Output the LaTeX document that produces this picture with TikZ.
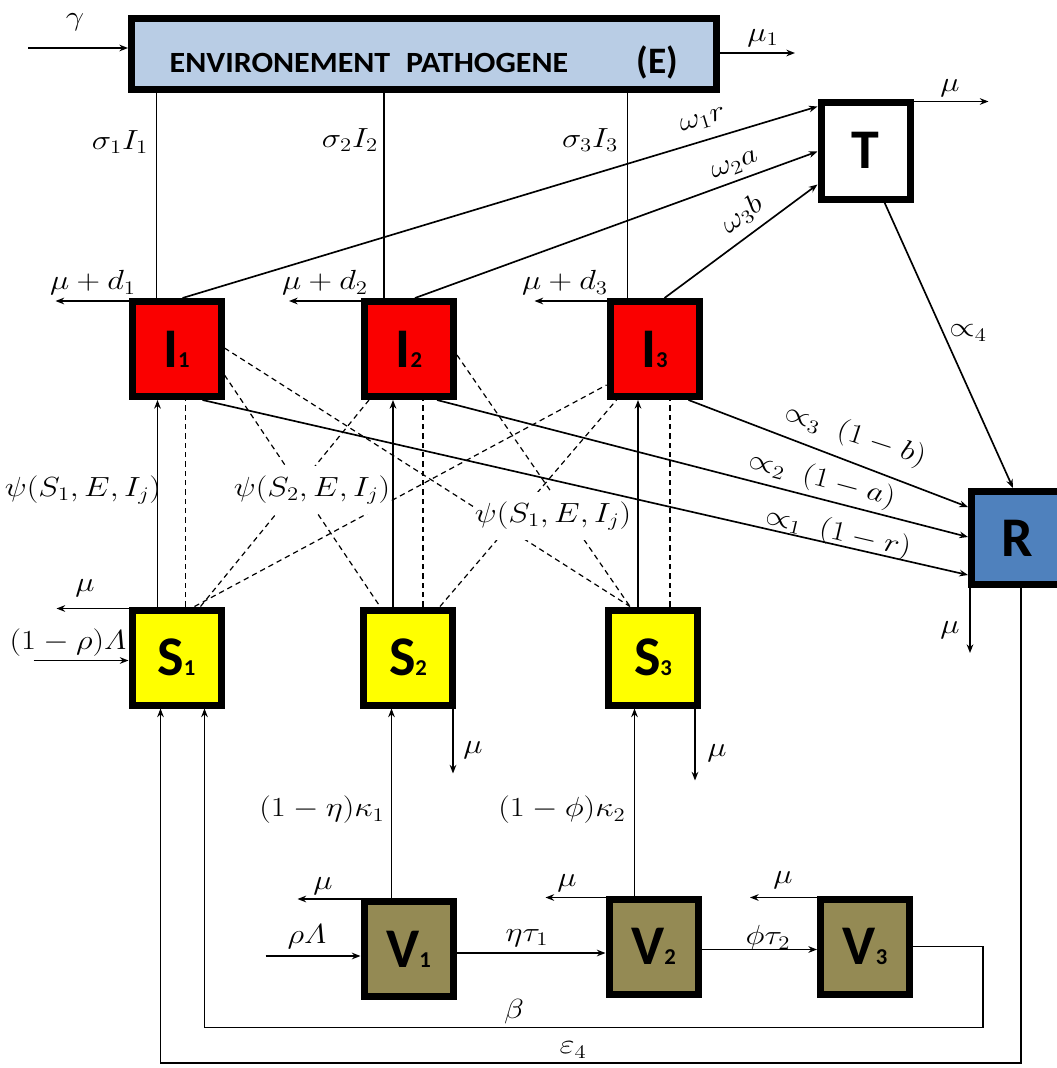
\documentclass[tikz,border=0pt]{standalone}
\usepackage{fontspec}
\usepackage{amsmath}
\usepackage{graphicx}
\newfontfamily\carlito{Carlito}
\usetikzlibrary{arrows.meta,calc}
\definecolor{ebg}{RGB}{185,205,229}
\definecolor{ired}{RGB}{250,0,0}
\definecolor{syel}{RGB}{255,255,0}
\definecolor{rblue}{RGB}{79,129,189}
\definecolor{volive}{RGB}{148,138,84}
\newcommand\bl[2]{{\carlito\bfseries\fontsize{42}{42}\selectfont #1\fontsize{17}{17}\selectfont #2}}
\newcommand\wm[1]{\scalebox{1.18}[1]{$#1$}}
\begin{document}
\begin{tikzpicture}[x=0.75pt,y=-0.75pt,
 comp/.style={draw=black,line width=5.25pt,minimum width=66.75pt,minimum height=71.25pt,inner sep=0pt},
 arr/.style={-{Stealth[length=6.5pt,width=5pt]},line width=1.25pt},
 plainl/.style={line width=0.8pt},
 dsh/.style={dash pattern=on 4pt off 3pt, line width=0.9pt},
 lab/.style={font=\fontsize{19.5}{22}\selectfont, inner sep=1pt},
 wlab/.style={lab, fill=white, inner xsep=1pt, inner ysep=7pt}]
\useasboundingbox (0,0) rectangle (1057,1068);
\fill[white] (0,0) rectangle (1057,1068);

% compartments
\node[comp,fill=ebg,minimum width=438.75pt,minimum height=53.25pt] (E) at (424,54) {};
\node[anchor=base west,font=\carlito\bfseries\fontsize{22}{22}\selectfont] (Etxt) at (165,72) {\scalebox{1.09}[1]{ENVIRONEMENT\hspace{0.5em}PATHOGENE}};
\node[anchor=base west,font=\carlito\bfseries\fontsize{28}{28}\selectfont] (Elab) at (632,73) {(E)};
\node[comp,fill=white,minimum height=72.75pt] (T) at (865.5,150.5) {\bl{T}{}};
\node[comp,fill=ired] (I1) at (176.5,349) {\bl{I}{1}};
\node[comp,fill=ired] (I2) at (409,349) {\bl{I}{2}};
\node[comp,fill=ired] (I3) at (654.5,349) {\bl{I}{3}};
\node[comp,fill=syel] (S1) at (176.5,657.5) {\bl{S}{1}};
\node[comp,fill=syel] (S2) at (408,657.5) {\bl{S}{2}};
\node[comp,fill=syel] (S3) at (653,657.5) {\bl{S}{3}};
\node[comp,fill=rblue,minimum width=68.25pt,minimum height=69.75pt] (R) at (1017,538) {\bl{R}{}};
\node[comp,fill=volive] (V1) at (408.5,949) {\bl{V}{1}};
\node[comp,fill=volive] (V2) at (653.5,946.5) {\bl{V}{2}};
\node[comp,fill=volive] (V3) at (865,946.5) {\bl{V}{3}};

% dashed contact lines (drawn first, labels mask them)
\draw[dsh] ($(S1.north west)+(57,0)$) coordinate (d1) -- (d1 |- I1.south);
\draw[dsh] ($(S2.north west)+(63,0)$) coordinate (d2) -- (d2 |- I2.south);
\draw[dsh] ($(S3.north west)+(65,0)$) coordinate (d3) -- (d3 |- I3.south);
\draw[dsh] ($(I1.north east)+(0,50)$) -- ($(S3.north west)+(25,0)$);
\draw[dsh] ($(I1.north east)+(0,77)$) -- ($(S2.north west)+(20,0)$);
\draw[dsh] ($(S1.north west)+(72,0)$) -- ($(I2.south west)+(8,0)$);
\draw[dsh] ($(S1.north west)+(66,0)$) -- ($(I3.south west)+(0,-15)$);
\draw[dsh] ($(I2.north east)+(0,57)$) -- ($(S3.north west)+(25,0)$);
\draw[dsh] ($(S2.north west)+(80,0)$) -- ($(I3.south west)+(10,0)$);

\node[wlab] (lp1) at (83,490) {\wm{\psi(S_1,E,I_j)}};
\node[wlab] (lp2) at (312,490) {\wm{\psi(S_2,E,I_j)}};
\node[wlab] (lp3) at (553,516) {\wm{\psi(S_1,E,I_j)}};

% environment
\draw[arr] ($(E.west)+(-100,-6)$) -- ++(100,0);
\draw[arr] ($(E.east)+(0,-1)$) -- ++(75,0);
\draw[plainl] ($(I1.north west)+(28,0)$) coordinate (e1) -- (e1 |- E.south);
\draw[plainl] ($(I2.north west)+(23,0)$) coordinate (e2) -- (e2 |- E.south);
\draw[plainl] ($(I3.north west)+(21,0)$) coordinate (e3) -- (e3 |- E.south);

% I deaths
\draw[arr] ($(I1.north west)+(0,3)$) -- ++(-73,0);
\draw[arr] ($(I2.north west)+(0,3)$) -- ++(-72,0);
\draw[arr] ($(I3.north west)+(0,3)$) -- ++(-72,0);

% I -> T
\draw[arr] ($(I1.north west)+(54,0)$) -- ($(T.north west)+(0,8)$);
\draw[arr] ($(I2.north west)+(54,0)$) -- ($(T.north west)+(0,53)$);
\draw[arr] ($(I3.north west)+(58,0)$) -- ($(T.north west)+(0,86)$);
\draw[arr] ($(T.north east)+(0,3)$) -- ++(75,0);
\draw[arr] ($(T.south west)+(67,0)$) -- ($(R.north west)+(45,0)$);

% I -> R
\draw[arr] ($(I3.south east)+(-14,0)$) -- ($(R.north west)+(0,19)$);
\draw[arr] ($(I2.south east)+(-20,0)$) -- ($(R.north west)+(0,49)$);
\draw[arr] ($(I1.south east)+(-22,0)$) -- ($(R.north west)+(0,87)$);
\draw[arr] ($(R.south west)+(2,0)$) -- ++(0,65);

% S -> I
\draw[arr] ($(S1.north west)+(29,0)$) coordinate (a1) -- (a1 |- I1.south);
\draw[arr] ($(S2.north west)+(33,0)$) coordinate (a2) -- (a2 |- I2.south);
\draw[arr] ($(S3.north west)+(33,0)$) coordinate (a3) -- (a3 |- I3.south);

% S flows
\draw[arr] ($(S1.north west)+(0,2)$) -- ++(-72,0);
\draw[arr] ($(S1.west)+(-95,3)$) -- ++(95,0);
\draw[arr] ($(S2.south east)+(-3,0)$) -- ++(0,65);
\draw[arr] ($(S3.south east)+(-6,0)$) -- ++(0,72);

% V flows
\draw[arr] ($(V1.north west)+(31,0)$) coordinate (k1) -- (k1 |- S2.south);
\draw[arr] ($(V2.north west)+(29,0)$) coordinate (k2) -- (k2 |- S3.south);
\draw[arr] ($(V1.north west)+(0,1)$) -- ++(-63,0);
\draw[arr] ($(V2.north west)+(0,2)$) -- ++(-60,0);
\draw[arr] ($(V3.north west)+(0,2)$) -- ++(-67,0);
\draw[arr] ($(V1.west)+(-95,7)$) -- ++(95,0);
\draw[arr] ($(V1.east)+(0,4)$) coordinate (b1) -- (b1 -| V2.west);
\draw[arr] ($(V2.east)+(0,3)$) coordinate (b2) -- (b2 -| V3.west);
\draw[arr] (V3.east) -- ++(70,0) -- ++(0,81) -| ($(S1.south west)+(76,0)$);
\draw[arr] ($(R.south west)+(53,0)$) -- ++(0,475) -| ($(S1.south west)+(32,0)$);

% labels
\node[lab] (lgam) at (75,22) {\wm{\gamma}};
\node[lab] (lmu1) at (763,38) {\wm{\mu_1}};
\node[lab] (lmuT) at (950,88) {\wm{\mu}};
\node[lab] (ls1) at (120,142) {\wm{\sigma_1 I_1}};
\node[lab] (ls2) at (350,140) {\wm{\sigma_2 I_2}};
\node[lab] (ls3) at (590,140) {\wm{\sigma_3 I_3}};
\node[lab] (ld1) at (93,283) {\wm{\mu+d_1}};
\node[lab] (ld2) at (325,283) {\wm{\mu+d_2}};
\node[lab] (ld3) at (565,283) {\wm{\mu+d_3}};
\node[lab,rotate=17] (lw1) at (703,121) {\wm{\omega_1 r}};
\node[lab,rotate=21] (lw2) at (735,166) {\wm{\omega_2 a}};
\node[lab,rotate=38] (lw3) at (742,215) {\wm{\omega_3 b}};
\node[lab] (la4) at (968,333) {\wm{\propto_4}};
\node[lab,rotate=-18] (la3) at (855,436) {\wm{\propto_3\;(1-b)}};
\node[lab,rotate=-15] (la2) at (822,480) {\wm{\propto_2\;(1-a)}};
\node[lab,rotate=-13] (la1) at (838,533) {\wm{\propto_1\;(1-r)}};
\node[lab] (lmS1) at (85,588) {\wm{\mu}};
\node[lab] (lrho) at (68,643) {\wm{(1-\rho)\varLambda}};
\node[lab] (lmS2) at (473,750) {\wm{\mu}};
\node[lab] (lmS3) at (717,753) {\wm{\mu}};
\node[lab] (lmR) at (950,630) {\wm{\mu}};
\node[lab] (lk1) at (322,810) {\wm{(1-\eta)\kappa_1}};
\node[lab] (lk2) at (562,810) {\wm{(1-\phi)\kappa_2}};
\node[lab] (lmV1) at (323,886) {\wm{\mu}};
\node[lab] (lmV2) at (567,883) {\wm{\mu}};
\node[lab] (lmV3) at (783,880) {\wm{\mu}};
\node[lab] (lrl) at (307,937) {\wm{\rho\varLambda}};
\node[lab] (lt1) at (527,938) {\wm{\eta\tau_1}};
\node[lab] (lt2) at (768,938) {\wm{\phi\tau_2}};
\node[lab] (lbeta) at (514,1012) {\wm{\beta}};
\node[lab] (leps) at (573,1050) {\wm{\varepsilon_4}};
\end{tikzpicture}
\end{document}
